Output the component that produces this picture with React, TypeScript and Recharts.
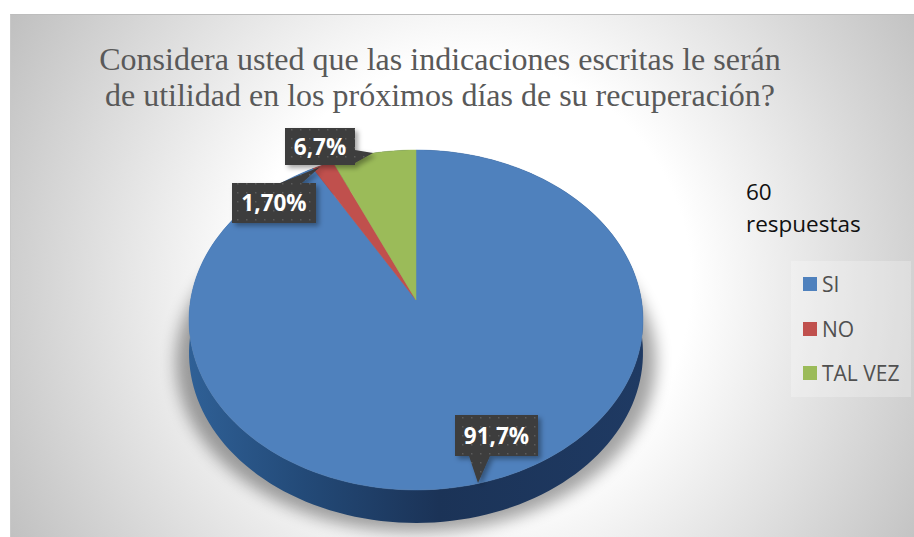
import { Legend, Pie, PieChart } from "recharts";

const categories = ["SI", "NO", "TAL VEZ"];
const shares = [91.7, 1.7, 6.7];
const shareLabels = ["91,7%", "1,70%", "6,7%"];
const topColors = ["#4f81bd", "#c0504d", "#9bbb59"];
const titleLines = [
  "Considera usted que las indicaciones escritas le serán",
  "de utilidad en los próximos días de su recuperación?",
];
const noteLines = ["60", "respuestas"];

const data = categories.map((name, i) => ({
  name,
  value: shares[i],
  fill: topColors[i],
}));

// the original is a tilted 3D pie, so the rim is projected instead of circular
const TILT = 0.7436;
const PERSPECTIVE = 0.1176;
const DEPTH = 33;

const project = (cx: number, cy: number, r: number, deg: number) => {
  const a = (deg * Math.PI) / 180;
  const d = 1 + PERSPECTIVE * Math.sin(a);
  return [cx + (r * Math.cos(a)) / d, cy - (r * TILT * Math.sin(a)) / d];
};

const rimPoints = (props: any) => {
  const { cx, cy, outerRadius, startAngle, endAngle } = props;
  const steps = Math.max(2, Math.ceil(Math.abs(endAngle - startAngle) / 2));
  const pts: number[][] = [];
  for (let i = 0; i <= steps; i++) {
    pts.push(
      project(cx, cy, outerRadius, startAngle + ((endAngle - startAngle) * i) / steps),
    );
  }
  return pts;
};

const TopSector = (props: any) => {
  const pts = rimPoints(props);
  const d = `M${props.cx},${props.cy}L${pts.map((p) => p.join(",")).join("L")}Z`;
  return <path d={d} fill={props.fill} stroke={props.fill} strokeWidth={0.5} />;
};

const SideSector = (props: any) => {
  const pts = rimPoints(props);
  const lower = [...pts].reverse().map((p) => [p[0], p[1] + DEPTH]);
  const d = `M${[...pts, ...lower].map((p) => p.join(",")).join("L")}Z`;
  return <path d={d} fill="url(#sideFill)" />;
};

// callouts: box and pointer, in the same order as the categories
const callouts = [
  { x: 455, y: 415, w: 83, h: 41, pointer: [[469, 456], [478, 483], [490, 456]] },
  { x: 232, y: 183, w: 84, h: 40, pointer: [[280, 183], [320, 167], [302, 183]] },
  { x: 285, y: 128, w: 70, h: 37, pointer: [[355, 150], [373, 153], [355, 163]] },
];

const Callout = (props: any) => {
  const c = callouts[props.index];
  const d =
    `M${c.x},${c.y}H${c.x + c.w}V${c.y + c.h}H${c.x}Z` +
    `M${c.pointer.map((p) => p.join(",")).join("L")}Z`;
  return (
    <g>
      <path d={d} fill="url(#dots)" filter="url(#boxShadow)" />
      <text
        x={c.x + c.w / 2}
        y={c.y + c.h / 2 + 8}
        textAnchor="middle"
        fill="#ffffff"
        fontFamily="Open Sans"
        fontWeight={700}
        fontSize={22.5}
      >
        {shareLabels[props.index]}
      </text>
    </g>
  );
};

const LegendBox = (props: any) => {
  // both pies report their sectors, keep one entry per category
  const payload = props.payload || [];
  const entries = categories
    .map((name) => payload.find((entry: any) => entry.value === name))
    .filter(Boolean);
  return (
    <div style={{ paddingTop: 1 }}>
      {entries.map((entry: any) => (
        <div
          key={entry.value}
          style={{ display: "flex", alignItems: "center", height: 44.5, paddingLeft: 12 }}
        >
          <span style={{ width: 14, height: 14, background: entry.color, marginRight: 5 }} />
          <span style={{ fontFamily: "Open Sans", fontSize: 21, color: "#505050" }}>
            {entry.value}
          </span>
        </div>
      ))}
    </div>
  );
};

export default function App() {
  return (
    <div style={{ position: "absolute", left: 0, top: 0, width: 914, height: 537, background: "#fff" }}>
      <div
        style={{
          position: "absolute",
          left: 10,
          top: 14,
          width: 904,
          height: 523,
          boxSizing: "border-box",
          borderTop: "1px solid #bdbdbd",
          borderLeft: "1px solid #c8c8c8",
          background: "radial-gradient(circle 550px at 460px 266px, #ffffff 40%, #bcbcbc 100%)",
        }}
      />
      <PieChart
        width={914}
        height={537}
        margin={{ top: 0, right: 0, bottom: 0, left: 0 }}
        style={{ position: "absolute", left: 0, top: 0 }}
      >
        <defs>
          <linearGradient id="sideFill" x1="0" y1="0" x2="1" y2="0">
            <stop offset="0%" stopColor="#2f6096" />
            <stop offset="25%" stopColor="#234a78" />
            <stop offset="55%" stopColor="#1b3357" />
            <stop offset="100%" stopColor="#1f3a63" />
          </linearGradient>
          <pattern id="dots" width="9" height="9" patternUnits="userSpaceOnUse">
            <rect width="9" height="9" fill="#3c3c3c" />
            <rect x="3" y="3" width="1.5" height="1.5" fill="#5c5c5c" />
          </pattern>
          <filter id="boxShadow" x="-20%" y="-20%" width="140%" height="140%">
            <feDropShadow dx="3" dy="3" stdDeviation="2.5" floodColor="#000" floodOpacity="0.35" />
          </filter>
          <filter id="pieShadow" x="-20%" y="-20%" width="140%" height="140%">
            <feGaussianBlur stdDeviation="8" />
          </filter>
        </defs>
        <ellipse cx={416} cy={362} rx={240} ry={170} fill="#000" opacity={0.36} filter="url(#pieShadow)" />
        {titleLines.map((line, i) => (
          <text
            key={line}
            x={440}
            y={70 + i * 36}
            textAnchor="middle"
            fontFamily="Liberation Serif"
            fontSize={32}
            fill="#595959"
          >
            {line}
          </text>
        ))}
        {noteLines.map((line, i) => (
          <text key={line} x={746} y={200 + i * 32} fontFamily="Open Sans" fontSize={22.5} fill="#111">
            {line}
          </text>
        ))}
        <Pie
          data={data}
          dataKey="value"
          nameKey="name"
          cx={416}
          cy={300}
          outerRadius={225.4}
          startAngle={90}
          endAngle={-270}
          stroke="none"
          legendType="none"
          shape={SideSector}
          isAnimationActive={false}
        />
        <Pie
          data={data}
          dataKey="value"
          nameKey="name"
          cx={416}
          cy={300}
          outerRadius={225.4}
          startAngle={90}
          endAngle={-270}
          stroke="none"
          shape={TopSector}
          label={Callout}
          labelLine={false}
          isAnimationActive={false}
        />
        <Legend
          layout="vertical"
          align="right"
          verticalAlign="top"
          content={LegendBox}
          wrapperStyle={{
            left: 791,
            top: 261,
            width: 120,
            height: 136,
            background: "rgba(255,255,255,0.25)",
          }}
        />
      </PieChart>
    </div>
  );
}
